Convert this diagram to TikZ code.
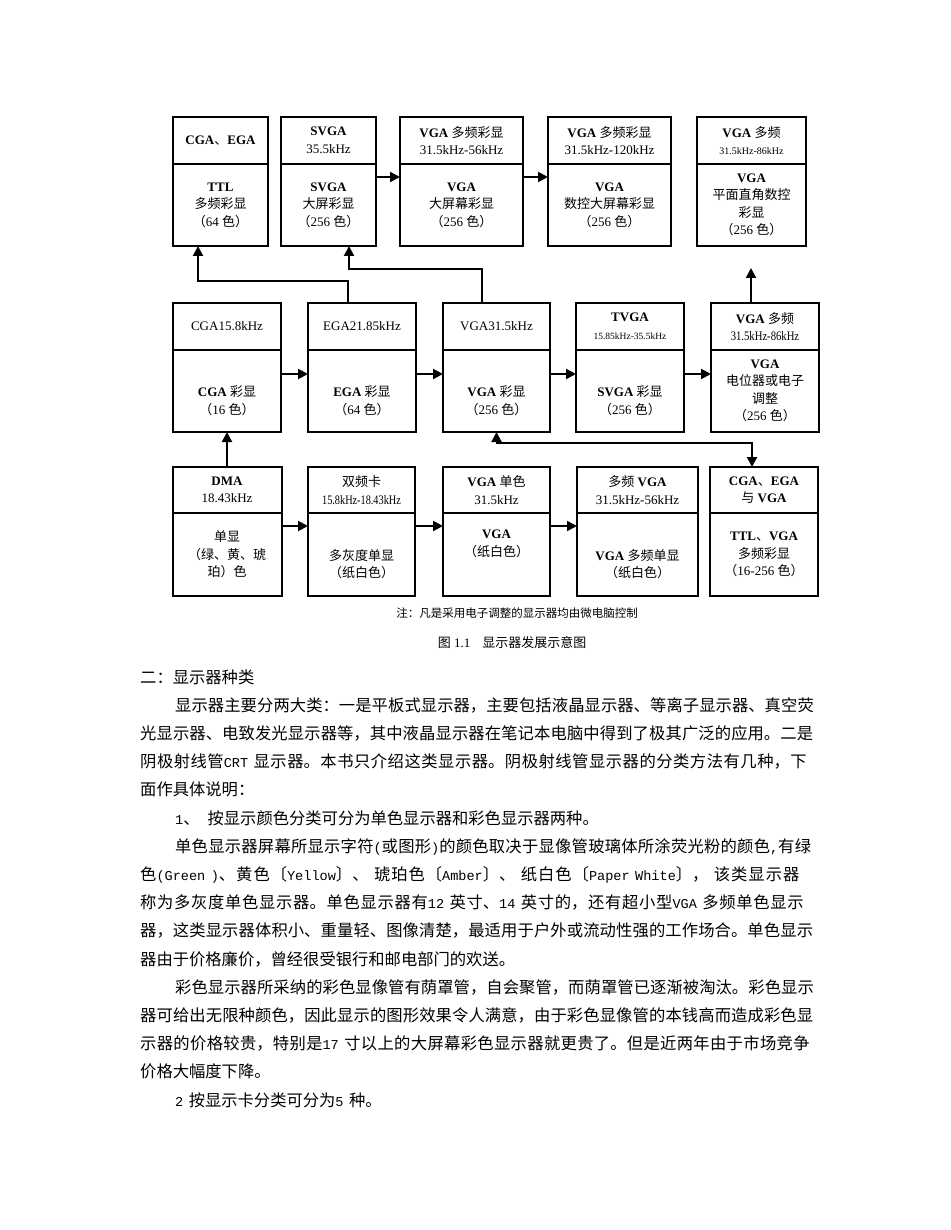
\documentclass[tikz,border=0pt]{standalone}
\usepackage{fontspec}
\setmainfont{Liberation Serif}
\newfontfamily\cjk{Noto Sans CJK SC}
\newfontfamily\monofont{Liberation Mono}[Scale=0.833]
\usetikzlibrary{arrows.meta, positioning}
\newcommand\zh[1]{{\cjk #1}}
\newcommand\en[1]{{\monofont #1}}
\XeTeXlinebreaklocale "zh"
\XeTeXlinebreakskip=0pt plus 2pt

\begin{document}
\begin{tikzpicture}[x=1pt, y=1pt,
  hd/.style={draw, line width=2pt, inner sep=1pt, outer sep=0pt,
    minimum height=47pt, align=center, font=\fontsize{13}{17.5}\selectfont},
  bd/.style={hd, minimum height=82pt},
  arr/.style={line width=2pt, -{Triangle[length=10pt, width=10pt]}},
  biarr/.style={line width=2pt,
    {Triangle[length=10pt, width=10pt]}-{Triangle[length=10pt, width=10pt]}},
  bodytxt/.style={anchor=base west, text width=675pt, inner sep=0pt,
    font=\cjk\fontsize{16.3}{28.2}\selectfont}]
  \fill[white] (0,0) rectangle (950,-1230);
  \useasboundingbox (0,0) rectangle (950,-1230);

  % top row
  \node[hd, minimum width=95pt] (h11) at (220.5,-140.5) {\textbf{CGA}\zh{、}\textbf{EGA}};
  \node[bd, minimum width=95pt, below=0pt of h11] (b11) {\textbf{TTL}\\\zh{多频彩显}\\\zh{（}64 \zh{色）}};
  \node[hd, minimum width=95pt] (h12) at (328.5,-140.5) {\textbf{SVGA}\\35.5kHz};
  \node[bd, minimum width=95pt, below=0pt of h12] (b12) {\textbf{SVGA}\\\zh{大屏彩显}\\\zh{（}256 \zh{色）}};
  \node[hd, minimum width=123pt] (h13) at (461.5,-140.5) {\textbf{VGA} \zh{多频彩显}\\31.5kHz-56kHz};
  \node[bd, minimum width=123pt, below=0pt of h13] (b13) {\textbf{VGA}\\\zh{大屏幕彩显}\\\zh{（}256 \zh{色）}};
  \node[hd, minimum width=123pt] (h14) at (609.5,-140.5) {\textbf{VGA} \zh{多频彩显}\\31.5kHz-120kHz};
  \node[bd, minimum width=123pt, below=0pt of h14] (b14) {\textbf{VGA}\\\zh{数控大屏幕彩显}\\\zh{（}256 \zh{色）}};
  \node[hd, minimum width=109pt] (h15) at (751.5,-140.5) {\textbf{VGA} \zh{多频}\\{\fontsize{10}{12}\selectfont 31.5kHz-86kHz}};
  \node[bd, minimum width=109pt, below=0pt of h15] (b15) {\textbf{VGA}\\\zh{平面直角数控}\\\zh{彩显}\\\zh{（}256 \zh{色）}};

  % middle row
  \node[hd, minimum width=108pt] (h21) at (227,-326.5) {CGA15.8kHz};
  \node[bd, minimum width=108pt, below=0pt of h21] (b21) {\strut\\\textbf{CGA} \zh{彩显}\\\zh{（}16 \zh{色）}};
  \node[hd, minimum width=108pt] (h22) at (362,-326.5) {EGA21.85kHz};
  \node[bd, minimum width=108pt, below=0pt of h22] (b22) {\strut\\\textbf{EGA} \zh{彩显}\\\zh{（}64 \zh{色）}};
  \node[hd, minimum width=107pt] (h23) at (496.5,-326.5) {VGA31.5kHz};
  \node[bd, minimum width=107pt, below=0pt of h23] (b23) {\strut\\\textbf{VGA} \zh{彩显}\\\zh{（}256 \zh{色）}};
  \node[hd, minimum width=108pt] (h24) at (630,-326.5) {\textbf{TVGA}\\{\fontsize{9.5}{12}\selectfont 15.85kHz-35.5kHz}};
  \node[bd, minimum width=108pt, below=0pt of h24] (b24) {\strut\\\textbf{SVGA} \zh{彩显}\\\zh{（}256 \zh{色）}};
  \node[hd, minimum width=108pt] (h25) at (765,-326.5) {\textbf{VGA} \zh{多频}\\\scalebox{0.82}[1]{31.5kHz-86kHz}};
  \node[bd, minimum width=108pt, below=0pt of h25] (b25) {\textbf{VGA}\\\zh{电位器或电子}\\\zh{调整}\\\zh{（}256 \zh{色）}};

  % bottom row
  \node[hd, minimum width=109pt, minimum height=46pt] (h31) at (227,-490) {\textbf{DMA}\\18.43kHz};
  \node[bd, minimum width=109pt, minimum height=83pt, below=0pt of h31] (b31) {\zh{单显}\\\zh{（绿、黄、琥}\\\zh{珀）色}};
  \node[hd, minimum width=107pt, minimum height=46pt] (h32) at (361.5,-490) {\zh{双频卡}\\\scalebox{0.79}[1]{15.8kHz-18.43kHz}};
  \node[bd, minimum width=107pt, minimum height=83pt, below=0pt of h32] (b32) {\strut\\\zh{多灰度单显}\\\zh{（纸白色）}};
  \node[hd, minimum width=107pt, minimum height=46pt] (h33) at (496.5,-490) {\textbf{VGA} \zh{单色}\\31.5kHz};
  \node[bd, minimum width=107pt, minimum height=83pt, below=0pt of h33] (b33) {\textbf{VGA}\\\zh{（纸白色）}\\\strut};
  \node[hd, minimum width=121pt, minimum height=46pt] (h34) at (637.5,-490) {\zh{多频} \textbf{VGA}\\31.5kHz-56kHz};
  \node[bd, minimum width=121pt, minimum height=83pt, below=0pt of h34] (b34) {\strut\\\textbf{VGA} \zh{多频单显}\\\zh{（纸白色）}};
  \node[hd, minimum width=108pt, minimum height=46pt] (h35) at (764,-490) {\textbf{CGA}\zh{、}\textbf{EGA}\\\zh{与} \textbf{VGA}};
  \node[bd, minimum width=108pt, minimum height=83pt, below=0pt of h35] (b35) {\textbf{TTL}\zh{、}\textbf{VGA}\\\zh{多频彩显}\\\zh{（}16-256 \zh{色）}};

  % arrows
  \draw[arr] ([yshift=-13pt]b12.north east) -- ([yshift=-13pt]b13.north west);
  \draw[arr] ([yshift=-13pt]b13.north east) -- ([yshift=-13pt]b14.north west);
  \draw[arr] ([yshift=-24pt]b21.north east) -- ([yshift=-24pt]b22.north west);
  \draw[arr] ([yshift=-24pt]b22.north east) -- ([yshift=-24pt]b23.north west);
  \draw[arr] ([yshift=-24pt]b23.north east) -- ([yshift=-24pt]b24.north west);
  \draw[arr] ([yshift=-24pt]b24.north east) -- ([yshift=-24pt]b25.north west);
  \draw[arr] ([yshift=-13pt]b31.north east) -- ([yshift=-13pt]b32.north west);
  \draw[arr] ([yshift=-13pt]b32.north east) -- ([yshift=-13pt]b33.north west);
  \draw[arr] ([yshift=-13pt]b33.north east) -- ([yshift=-13pt]b34.north west);
  \draw[arr] (h31.north) -- (b21.south);
  \draw[arr] ([xshift=-14pt]h22.north) -- ++(0,22) -| ([xshift=-22.5pt]b11.south);
  \draw[arr] ([xshift=-14.5pt]h23.north) -- ++(0,34) -| ([xshift=20.5pt]b12.south);
  \draw[arr] ([xshift=-14pt]h25.north) -- ++(0,35);
  \draw[biarr] (b23.south) -- ++(0,-11) -| ([xshift=-12pt]h35.north);

  \node[font=\cjk\fontsize{11.5}{13}\selectfont] (note) at (517,-613) {注：凡是采用电子调整的显示器均由微电脑控制};
  \node[font=\fontsize{13}{15}\selectfont] (cap) at (512,-643) {\zh{图} 1.1\hspace{12pt}\zh{显示器发展示意图}};

  % text below the figure
  \node[bodytxt] (body) at (140,-683) {\tolerance=10000\hyphenpenalty=10000\parskip=0pt
\noindent 二：显示器种类\par
\hspace*{35pt}显示器主要分两大类：一是平板式显示器，主要包括液晶显示器、等离子显示器、真空荧\linebreak
光显示器、电致发光显示器等，其中液晶显示器在笔记本电脑中得到了极其广泛的应用。二是\linebreak
阴极射线管\en{CRT} 显示器。本书只介绍这类显示器。阴极射线管显示器的分类方法有几种，下\linebreak
面作具体说明：\par
\hspace*{35pt}\en{1}、\hspace{8pt}按显示颜色分类可分为单色显示器和彩色显示器两种。\par
\hspace*{35pt}单色显示器屏幕所显示字符\en{(}或图形\en{)}的颜色取决于显像管玻璃体所涂荧光粉的颜色\en{,}有绿\linebreak
色\en{(Green )}、黄色〔\en{Yellow}〕、 琥珀色〔\en{Amber}〕、 纸白色〔\en{Paper White}〕， 该类显示器\linebreak
称为多灰度单色显示器。单色显示器有\en{12} 英寸、\en{14} 英寸的，还有超小型\en{VGA} 多频单色显示\linebreak
器，这类显示器体积小、重量轻、图像清楚，最适用于户外或流动性强的工作场合。单色显示\linebreak
器由于价格廉价，曾经很受银行和邮电部门的欢送。\par
\hspace*{35pt}彩色显示器所采纳的彩色显像管有荫罩管，自会聚管，而荫罩管已逐渐被淘汰。彩色显示\linebreak
器可给出无限种颜色，因此显示的图形效果令人满意，由于彩色显像管的本钱高而造成彩色显\linebreak
示器的价格较贵，特别是\en{17} 寸以上的大屏幕彩色显示器就更贵了。但是近两年由于市场竞争\linebreak
价格大幅度下降。\par
\hspace*{35pt}\en{2} 按显示卡分类可分为\en{5} 种。};
\end{tikzpicture}
\end{document}
